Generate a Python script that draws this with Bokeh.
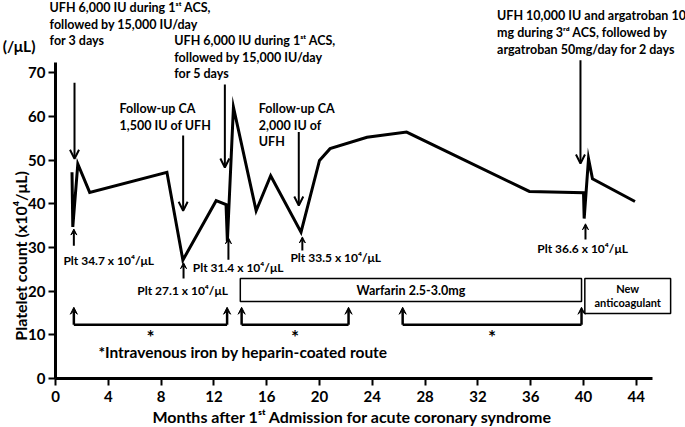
from bokeh.plotting import figure
from bokeh.models import Label, Arrow, OpenHead, VeeHead, FixedTicker
from bokeh.embed import file_html
from bokeh.resources import INLINE

# ---------------- data ----------------
months = [1.25, 1.31, 1.69, 2.59, 8.44, 9.65, 12.17, 12.92, 13.02, 13.48, 15.2, 16.3,
          18.6, 20.0, 20.8, 23.6, 26.6, 35.9, 40.0, 40.05, 40.38, 40.68, 43.9]
platelets = [47.2, 34.7, 49.1, 42.6, 47.2, 27.1, 40.7, 39.8, 31.4, 62.1, 38.4, 46.4,
             33.5, 49.9, 52.6, 55.2, 56.4, 42.8, 42.5, 36.6, 50.3, 45.7, 40.5]

x_ticks = [0, 4, 8, 12, 16, 20, 24, 28, 32, 36, 40, 44]
y_ticks = [0, 10, 20, 30, 40, 50, 60, 70]

# nadir platelet counts labelled in the chart (month, value)
nadir_months = [1.39, 9.7, 13.1, 18.7, 40.15]
nadir_values = [34.7, 27.1, 31.4, 33.5, 36.6]

# intravenous iron periods (months)
iron_start = [1.39, 14.1, 26.3]
iron_end = [13.0, 22.2, 39.85]

# anticoagulant periods (months)
warfarin_period = [14.0, 39.85]
new_anticoag_period = [40.1, 46.6]

FONT = "Lato"

p = figure(width=685, height=427, x_range=(-4.167, 47.727), y_range=(-11.21, 86.5),
           output_backend="svg", toolbar_location=None,
           min_border_left=0, min_border_right=0, min_border_top=0, min_border_bottom=0)
p.outline_line_color = None
p.xgrid.visible = False
p.ygrid.visible = False
p.background_fill_color = "white"
p.border_fill_color = "white"

for ax in (p.xaxis, p.yaxis):
    ax.fixed_location = 0
    ax.axis_line_width = 3
    ax.axis_line_color = "black"
    ax.major_tick_line_width = 2
    ax.major_tick_line_color = "black"
    ax.major_tick_in = 0
    ax.major_tick_out = 7
    ax.minor_tick_line_color = None
    ax.major_label_text_font = FONT
    ax.major_label_text_font_style = "bold"
    ax.major_label_text_font_size = "15px"
    ax.major_label_text_color = "black"
p.xaxis.ticker = FixedTicker(ticks=x_ticks)
p.yaxis.ticker = FixedTicker(ticks=y_ticks)
p.xaxis.bounds = (0, 45.2)
p.yaxis.bounds = (0, 72.3)
p.xaxis.major_label_standoff = 5
p.yaxis.major_label_standoff = 3

# main line
p.line(months, platelets, line_width=3, line_color="black", line_join="miter")


def lbl(x, y, text, size=12.5, align="left", baseline="middle", angle=0):
    p.add_layout(Label(x=x, y=y, text=text, text_font=FONT, text_font_style="bold",
                       text_font_size=f"{size}px", text_align=align, text_baseline=baseline,
                       angle=angle, text_color="black"))


def arrow(x0, y0, x1, y1, head="open", size=9, lw=2):
    if head == "open":
        h = OpenHead(size=size, line_width=lw, line_color="black")
    else:
        h = VeeHead(size=size, line_width=1, line_color="black", fill_color="black")
    p.add_layout(Arrow(end=h, x_start=x0, y_start=y0, x_end=x1, y_end=y1,
                       line_width=lw, line_color="black"))


# axis titles
lbl(-2.65, 28.5, "Platelet count  (x10⁴/μL)", size=16, align="center", angle=1.5708)
lbl(-4.0, 76.0, "(/μL)", size=15.5)
lbl(22.5, -8.8, "Months after 1ˢᵗ Admission for acute coronary syndrome", size=16, align="center")

# top annotations
for i, t in enumerate(["UFH 6,000 IU during 1ˢᵗ ACS,", "followed by 15,000 IU/day", "for 3 days"]):
    lbl(-0.45, 84.9 - 3.8 * i, t)
arrow(1.44, 67.7, 1.44, 50.3)

for i, t in enumerate(["UFH 6,000 IU during 1ˢᵗ ACS,", "followed by 15,000 IU/day", "for 5 days"]):
    lbl(9.0, 77.3 - 3.8 * i, t)
arrow(12.83, 67.3, 12.83, 48.3)

for i, t in enumerate(["Follow-up CA", "1,500 IU of UFH"]):
    lbl(4.85, 61.8 - 3.9 * i, t)
arrow(9.67, 55.6, 9.67, 38.4)

for i, t in enumerate(["Follow-up CA", "2,000 IU of", "UFH"]):
    lbl(15.4, 61.8 - 3.8 * i, t)
arrow(18.43, 56.4, 18.43, 39.6)

for i, t in enumerate(["UFH 10,000 IU and argatroban 10", "mg during 3ʳᵈ ACS, followed by",
                       "argatroban 50mg/day for 2 days"]):
    lbl(33.45, 83.1 - 3.9 * i, t)
arrow(39.77, 72.8, 39.77, 49.2)

# nadir labels
plt_label_pos = [(0.6, 27.0), (6.2, 20.1), (10.4, 25.4), (17.8, 27.7), (36.5, 29.7)]
for v, (lx, ly) in zip(nadir_values, plt_label_pos):
    lbl(lx, ly, f"Plt {v} x 10⁴/μL", size=12)
arrow(nadir_months[0], 30.4, nadir_months[0], 34.2, head="vee", size=6, lw=2)
arrow(nadir_months[1], 22.9, nadir_months[1], 26.5, head="vee", size=6, lw=2)
arrow(nadir_months[2], 27.2, nadir_months[2], 32.2, head="vee", size=6, lw=2)
arrow(nadir_months[3], 29.3, nadir_months[3], 32.4, head="vee", size=6, lw=2)
arrow(nadir_months[4], 31.8, nadir_months[4], 35.4, head="vee", size=6, lw=2)

# anticoagulant boxes
p.quad(left=[warfarin_period[0]], right=[warfarin_period[1]], bottom=[17.6], top=[22.9],
       fill_color="white", line_color="black", line_width=1.5)
p.quad(left=[new_anticoag_period[0]], right=[new_anticoag_period[1]], bottom=[14.9], top=[22.9],
       fill_color="white", line_color="black", line_width=1.5)
lbl(sum(warfarin_period) / 2, 20.2, "Warfarin 2.5-3.0mg", size=12.5, align="center")
lbl(sum(new_anticoag_period) / 2, 20.5, "New", size=11, align="center")
lbl(sum(new_anticoag_period) / 2, 17.3, "anticoagulant", size=11, align="center")

# iron brackets
bracket_y = 12.3
p.segment(x0=iron_start, y0=[bracket_y] * 3, x1=iron_end, y1=[bracket_y] * 3,
          line_width=2.5, line_color="black")
for s, e in zip(iron_start, iron_end):
    arrow(s, bracket_y, s, 16.3, head="vee", size=7, lw=2.5)
    arrow(e, bracket_y, e, 16.3, head="vee", size=7, lw=2.5)
    lbl((s + e) / 2, 9.6, "*", size=19, align="center")
lbl(14.2, 6.0, "*Intravenous iron by heparin-coated route", size=15.5, align="center")

open("out.html", "w").write(file_html(p, INLINE))
